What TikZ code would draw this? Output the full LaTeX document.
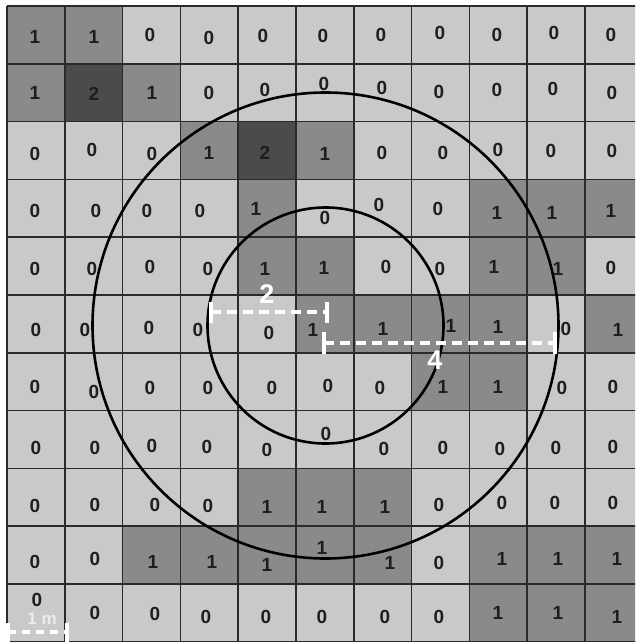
\documentclass[tikz,border=0pt]{standalone}
\usepackage{fontspec}
\setmainfont{Liberation Sans}
\definecolor{cz}{HTML}{C9C9C9}
\definecolor{co}{HTML}{8A8A8A}
\definecolor{ct}{HTML}{4B4B4B}
\definecolor{gridc}{HTML}{2A2A2A}
\definecolor{numc}{HTML}{1E1E1E}
\newcommand{\numfont}{\fontsize{19}{19}\selectfont\bfseries}
\newcommand{\labfont}{\fontsize{27}{27}\selectfont\bfseries}
\newcommand{\smlfont}{\fontsize{17}{17}\selectfont\bfseries}
\begin{document}
\begin{tikzpicture}[x=1pt,y=-1pt,
  num/.style={font=\numfont,text=numc,inner sep=0pt,anchor=center},
  gridline/.style={draw=gridc,line width=1.6pt},
  ring/.style={draw=black,line width=2.6pt},
  wdash/.style={draw=white,line width=4pt,dash pattern=on 10pt off 6pt},
  wtick/.style={draw=white,line width=4pt},
  wlabel/.style={font=\labfont,text=white,inner sep=0pt},
  slabel/.style={font=\smlfont,text=white!92!black,inner sep=0pt}]
\useasboundingbox (0,0) rectangle (635,642);
\fill[white] (0,0) rectangle (635,642);
\begin{scope}
\clip (0,0) rectangle (635,642);
\foreach \r/\vals in {
 0/{1,1,0,0,0,0,0,0,0,0,0},
 1/{1,2,1,0,0,0,0,0,0,0,0},
 2/{0,0,0,1,2,1,0,0,0,0,0},
 3/{0,0,0,0,1,0,0,0,1,1,1},
 4/{0,0,0,0,1,1,0,0,1,1,0},
 5/{0,0,0,0,0,1,1,1,1,0,1},
 6/{0,0,0,0,0,0,0,1,1,0,0},
 7/{0,0,0,0,0,0,0,0,0,0,0},
 8/{0,0,0,0,1,1,1,0,0,0,0},
 9/{0,0,1,1,1,1,1,0,1,1,1},
 10/{0,0,0,0,0,0,0,0,1,1,1}}{
  \foreach \v [count=\c from 0] in \vals {
    \ifcase\v \def\cc{cz}\or \def\cc{co}\else \def\cc{ct}\fi
    \fill[\cc] ({7+57.8*\c},{6+57.8*\r}) rectangle ({7+57.8*(\c+1)},{6+57.8*(\r+1)});
  }
}
\foreach \i in {0,...,11}{
  \draw[gridline] ({7+57.8*\i},6) -- ({7+57.8*\i},650);
  \draw[gridline] (7,{6+57.8*\i}) -- (650,{6+57.8*\i});
}
\foreach \x/\y/\t in {
 35/37/1, 94/37/1, 150/35/0, 209/38/0, 263/36/0, 323/36/0, 381/35/0, 440/33/0, 497/35/0, 554/33/0, 611/35/0,
 35/93/1, 94/94/2, 152/93/1, 209/93/0, 265/90/0, 324/84/0, 382/88/0, 439/92/0, 497/90/0, 553/89/0, 612/93/0,
 35/154/0, 92/150/0, 152/154/0, 209/153/1, 265/153/2, 325/154/1, 382/153/0, 443/153/0, 498/150/0, 551/151/0, 612/151/0,
 35/211/0, 96/211/0, 147/211/0, 200/211/0, 256/209/1, 325/218/0, 379/205/0, 438/209/0, 497/213/1, 552/213/1, 611/211/1,
 35/269/0, 92/269/0, 150/267/0, 208/269/0, 265/269/1, 324/268/1, 386/267/0, 440/269/0, 494/267/1, 558/269/1, 611/268/0,
 36/330/0, 85/330/0, 149/328/0, 198/330/0, 269/333/0, 313/330/1, 383/329/1, 451/326/1, 498/327/1, 566/329/0, 618/330/1,
 35/387/0, 94/392/0, 150/388/0, 208/388/0, 272/388/0, 328/386/0, 380/388/0, 443/387/1, 498/387/1, 562/388/0, 613/387/0,
 36/448/0, 95/448/0, 152/446/0, 207/447/0, 267/450/0, 326/434/0, 384/449/0, 443/448/0, 500/449/0, 556/448/0, 613/447/0,
 35/506/0, 95/505/0, 155/505/0, 208/506/0, 267/507/1, 322/507/1, 385/507/1, 439/505/0, 502/503/0, 555/503/0, 613/503/0,
 35/562/0, 95/559/0, 153/562/1, 212/562/1, 267/565/1, 322/548/1, 390/563/1, 439/563/0, 502/559/1, 558/559/1, 617/559/1,
 37/600/0, 95/613/0, 155/614/0, 206/617/0, 266/617/0, 322/617/0, 385/617/0, 439/617/0, 498/613/1, 558/613/1, 617/617/1}{
  \node[num] at (\x,\y) {\t};
}
\coordinate (ctr) at (325.5,325.5);
\draw[ring] (ctr) circle[radius=118];
\draw[ring] (ctr) circle[radius=233];
\coordinate (a1) at (211,312);
\coordinate (a2) at (327,312);
\draw[wdash] (a1) -- (a2);
\draw[wtick] (211,301.5) -- (211,322.5);
\draw[wtick] (327,301.5) -- (327,322.5);
\node[wlabel] (lab2) at (267,294) {2};
\coordinate (b1) at (323.5,343);
\coordinate (b2) at (555,343);
\draw[wdash] (b1) -- (b2);
\draw[wtick] (323.5,332) -- (323.5,353.5);
\draw[wtick] (555,332) -- (555,353.5);
\node[wlabel] (lab4) at (435,360) {4};
\coordinate (s1) at (8,632);
\coordinate (s2) at (67,632);
\draw[wdash,dash pattern=on 8pt off 6pt] (s1) -- (s2);
\draw[wtick] (8,623) -- (8,642);
\draw[wtick] (67,623) -- (67,642);
\node[slabel] (labm) at (42,619) {1 m};
\end{scope}
\end{tikzpicture}
\end{document}
